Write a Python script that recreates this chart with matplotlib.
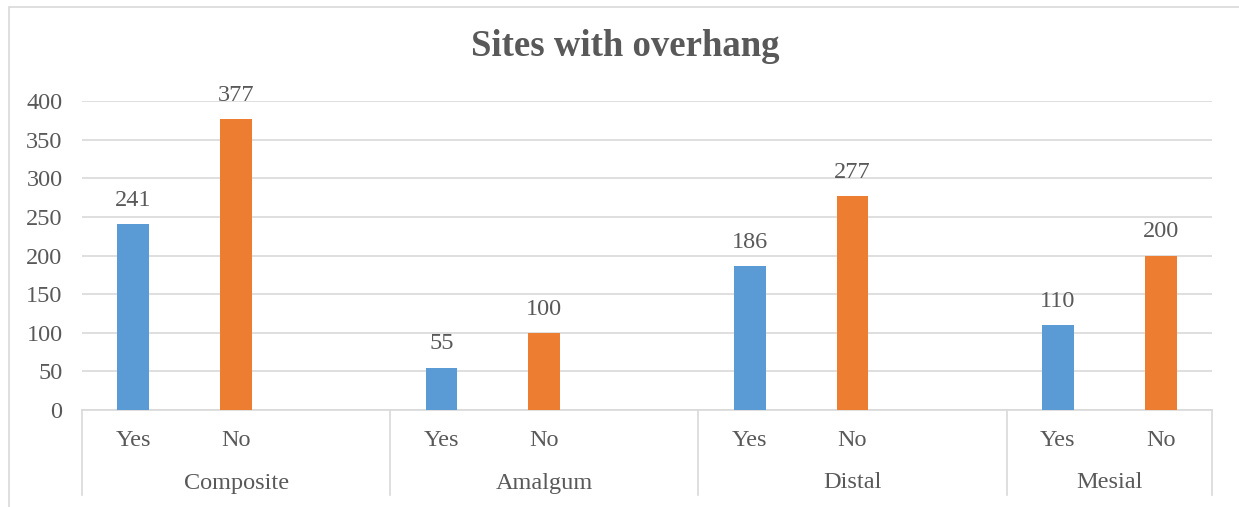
import numpy as np
import matplotlib.pyplot as plt
import matplotlib.transforms as mtransforms
from matplotlib.patches import Rectangle

groups = ['Composite', 'Amalgum', 'Distal', 'Mesial']
group_slots = [3, 3, 3, 2]
sub_labels = ['Yes', 'No']
yes_vals = [241, 55, 186, 110]
no_vals = [377, 100, 277, 200]
yticks = [0, 50, 100, 150, 200, 250, 300, 350, 400]

plt.rcParams['font.family'] = ['Liberation Serif', 'DejaVu Serif']
txt = '#595959'
grid = '#D9D9D9'
fs = 17.5

W, H = 1239, 507
fig = plt.figure(figsize=(W / 100, H / 100), dpi=100)
ax = fig.add_axes([82 / W, (H - 410) / H, (1212 - 82) / W, (410 - 101) / H])

# outer chart border (cropped on the right and bottom)
fig.patches.append(Rectangle((9 / W, -0.1), 1.2, (H - 6.5) / H + 0.1,
                             transform=fig.transFigure, fill=False,
                             edgecolor=grid, lw=1.2))

starts = np.concatenate([[0], np.cumsum(group_slots)[:-1]])
x_yes = starts
x_no = starts + 1
bw = 0.31

b1 = ax.bar(x_yes, yes_vals, bw, color='#5B9BD5', zorder=3)
b2 = ax.bar(x_no, no_vals, bw, color='#ED7D31', zorder=3)
for bars, vals in ((b1, yes_vals), (b2, no_vals)):
    for b, v in zip(bars, vals):
        ax.annotate(str(v), (b.get_x() + b.get_width() / 2, v),
                    xytext=(0, 17), textcoords='offset points',
                    ha='center', va='center', fontsize=fs, color=txt,
                    annotation_clip=False)

ax.set_xlim(-0.5, sum(group_slots) - 0.5)
ax.set_ylim(0, 400)
ax.set_yticks(yticks)
ax.yaxis.grid(True, color=grid, lw=1.2, zorder=0)
ax.tick_params(axis='y', length=0, labelsize=fs, labelcolor=txt, pad=14)
for s in ['top', 'right', 'left']:
    ax.spines[s].set_visible(False)
ax.spines['bottom'].set_color(grid)
ax.spines['bottom'].set_linewidth(1.2)
ax.set_xticks([])

trans = mtransforms.blended_transform_factory(ax.transData, ax.transAxes)
ph = 410 - 101
for xs, lab in ((x_yes, sub_labels[0]), (x_no, sub_labels[1])):
    for x in xs:
        ax.text(x, -(440 - 410) / ph, lab, transform=trans, ha='center',
                va='center', fontsize=fs, color=txt)

depth = (495 - 410) / ph
bounds = np.concatenate([[0], np.cumsum(group_slots)]) - 0.5
for b in bounds:
    ax.plot([b, b], [0, -depth], transform=trans, color=grid, lw=1.2,
            clip_on=False)
for g, lo, hi in zip(groups, bounds[:-1], bounds[1:]):
    ax.text((lo + hi) / 2, -(483 - 410) / ph, g, transform=trans,
            ha='center', va='center', fontsize=fs, color=txt)

fig.text(625 / W, (H - 47) / H, 'Sites with overhang', ha='center',
         va='center', fontsize=26.5, fontweight='bold', color=txt)

fig.savefig('out.png', dpi=100)
